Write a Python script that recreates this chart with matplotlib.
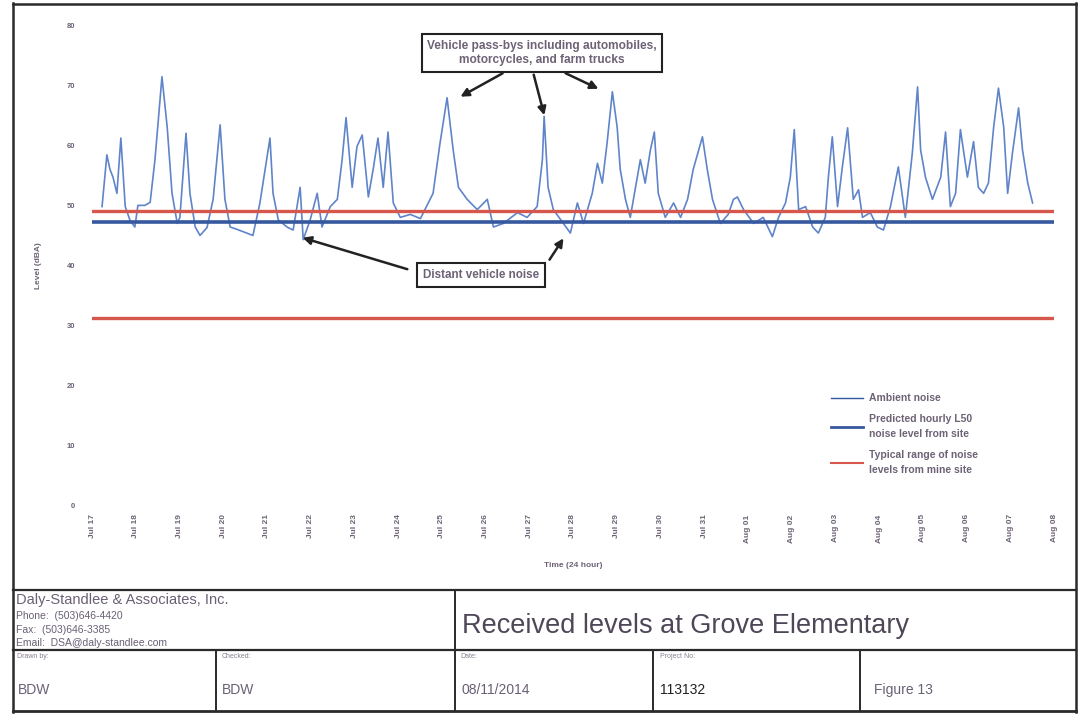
import matplotlib
matplotlib.use("Agg")
import matplotlib.pyplot as plt
from matplotlib.lines import Line2D

plt.rcParams['font.family'] = ['Liberation Sans', 'DejaVu Sans']

# ---------------- data ----------------
days = ["Jul 17", "Jul 18", "Jul 19", "Jul 20", "Jul 21", "Jul 22", "Jul 23", "Jul 24",
        "Jul 25", "Jul 26", "Jul 27", "Jul 28", "Jul 29", "Jul 30", "Jul 31", "Aug 01",
        "Aug 02", "Aug 03", "Aug 04", "Aug 05", "Aug 06", "Aug 07", "Aug 08"]

t_days = [0.23, 0.34, 0.41, 0.48, 0.57, 0.66, 0.76, 0.87, 0.98, 1.05, 1.21, 1.33, 1.44,
          1.60, 1.72, 1.83, 1.95, 2.01, 2.15, 2.24, 2.36, 2.47, 2.63, 2.77, 2.93, 3.04,
          3.16, 3.32, 3.50, 3.68, 3.84, 4.07, 4.14, 4.26, 4.46, 4.60, 4.76, 4.83, 4.99,
          5.15, 5.26, 5.45, 5.61, 5.72, 5.81, 5.95, 6.06, 6.18, 6.32, 6.43, 6.54, 6.66,
          6.77, 6.89, 7.05, 7.28, 7.51, 7.80, 7.96, 8.12, 8.26, 8.38, 8.58, 8.81, 9.04,
          9.18, 9.41, 9.73, 9.95, 10.18, 10.30, 10.34, 10.43, 10.55, 10.78, 10.94, 11.10,
          11.24, 11.44, 11.56, 11.67, 11.78, 11.90, 12.01, 12.08, 12.20, 12.31, 12.43,
          12.54, 12.65, 12.77, 12.86, 12.95, 13.11, 13.30, 13.46, 13.62, 13.75, 13.96,
          14.07, 14.19, 14.37, 14.55, 14.67, 14.76, 14.90, 15.13, 15.35, 15.56, 15.70,
          15.86, 15.97, 16.06, 16.16, 16.32, 16.48, 16.61, 16.77, 16.84, 16.93, 17.05,
          17.16, 17.28, 17.41, 17.53, 17.62, 17.80, 17.96, 18.10, 18.26, 18.44, 18.60,
          18.76, 18.88, 18.95, 19.06, 19.22, 19.41, 19.52, 19.63, 19.75, 19.86, 20.02,
          20.16, 20.27, 20.39, 20.50, 20.62, 20.73, 20.85, 20.94, 21.05, 21.19, 21.28,
          21.40, 21.51]

ambient_dba = [49.8, 58.4, 56.0, 54.7, 52.0, 61.2, 49.8, 47.5, 46.4, 50.0, 50.0, 50.5, 57.6,
               71.4, 63.0, 52.0, 47.0, 48.0, 62.0, 52.0, 46.4, 45.0, 46.3, 51.0, 63.4, 51.0,
               46.4, 46.0, 45.5, 45.0, 50.4, 61.2, 52.0, 47.6, 46.4, 45.9, 53.0, 44.3, 47.6,
               52.0, 46.4, 49.8, 51.0, 57.6, 64.6, 53.0, 59.8, 61.7, 51.4, 56.0, 61.2, 53.0,
               62.2, 50.4, 48.0, 48.5, 47.8, 52.0, 60.4, 67.9, 59.2, 53.0, 51.0, 49.3, 51.0,
               46.4, 47.0, 48.8, 48.0, 49.8, 57.6, 64.8, 53.0, 49.3, 47.0, 45.4, 50.4,
               47.0, 52.0, 57.0, 53.7, 60.4, 68.9, 63.0, 56.0, 51.0, 48.0, 53.0,
               57.6, 53.7, 59.2, 62.2, 52.0, 48.0, 50.4, 48.0, 51.0, 56.0, 61.4,
               56.0, 51.0, 47.0, 48.5, 51.0, 51.4, 49.3, 47.0, 48.0, 44.8, 48.0,
               50.4, 54.7, 62.6, 49.3, 49.8, 46.4, 45.4, 48.0, 54.7, 61.4, 49.8,
               56.4, 62.9, 51.0, 52.6, 48.0, 48.8, 46.4, 45.9, 49.8, 56.4, 48.0,
               58.7, 69.7, 59.2, 54.7, 51.0, 54.7, 62.2, 49.8, 52.0, 62.6, 54.7,
               60.6, 53.0, 52.0, 53.7, 63.0, 69.5, 63.0, 52.0, 58.7, 66.2, 59.2,
               53.7, 50.4]

predicted_l50 = 47.3
mine_range = [31.3, 49.0]

y_ticks = [0, 10, 20, 30, 40, 50, 60, 70, 80]

# ---------------- figure ----------------
W, H = 1079, 715
fig = plt.figure(figsize=(W / 100, H / 100), dpi=100)
fig.patch.set_facecolor('white')

def fx(px):
    return px / W

def fy(py):
    return 1 - py / H

txt = '#6d6276'

ax = fig.add_axes([fx(92), fy(506), fx(1054) - fx(92), fy(25) - fy(506)])
ax.set_xlim(0, len(days) - 1)
ax.set_ylim(0, 80)
for s in ax.spines.values():
    s.set_visible(False)

ax.plot(t_days, ambient_dba, color='#5f84c9', lw=1.2, zorder=2)
ax.axhline(predicted_l50, color='#35589e', lw=2.6, zorder=3)
for v in mine_range:
    ax.axhline(v, color='#d6584c', lw=2.4, zorder=4)

ax.set_yticks(y_ticks)
ax.set_yticklabels([str(v) for v in y_ticks], fontsize=5.5, color=txt, fontweight='bold')
ax.set_xticks(range(len(days)))
ax.set_xticklabels(days, rotation=90, fontsize=6, color=txt, fontweight='bold')
ax.tick_params(length=0, pad=12)
ax.tick_params(axis='x', pad=6)
ax.set_ylabel('Level (dBA)', fontsize=6, color=txt, fontweight='bold', labelpad=18)
ax.set_xlabel('Time (24 hour)', fontsize=6, color=txt, fontweight='bold', labelpad=14)

# legend
handles = [Line2D([], [], color='#35589e', lw=1.0),
           Line2D([], [], color='#35589e', lw=2.0),
           Line2D([], [], color='#d6584c', lw=1.5)]
labels = ['Ambient noise', 'Predicted hourly L50\nnoise level from site',
          'Typical range of noise\nlevels from mine site']
leg = fig.legend(handles, labels, loc='upper left',
                 bbox_to_anchor=(fx(822), fy(384)), frameon=False,
                 fontsize=7.5, handlelength=3.0, labelspacing=1.0, handletextpad=0.6)
for t in leg.get_texts():
    t.set_color(txt)
    t.set_fontweight('bold')
    t.set_linespacing(1.7)

# annotations
fig.text(fx(542), fy(53),
         'Vehicle pass-bys including automobiles,\nmotorcycles, and farm trucks',
         ha='center', va='center', fontsize=8.6, color=txt, fontweight='bold',
         bbox=dict(boxstyle='square,pad=0.45', fc='white', ec='#222222', lw=1.5),
         linespacing=1.3)
fig.text(fx(481), fy(275), 'Distant vehicle noise', ha='center', va='center',
         fontsize=8.4, color=txt, fontweight='bold',
         bbox=dict(boxstyle='square,pad=0.55', fc='white', ec='#222222', lw=1.5))

arrow_kw = dict(arrowstyle='-|>', color='#222222', lw=1.8, mutation_scale=12)
for (x0, y0), (x1, y1) in [((505, 72), (458, 98)), ((533, 72), (545, 118)),
                           ((563, 72), (601, 90)), ((410, 270), (300, 237)),
                           ((548, 262), (565, 236))]:
    ax.annotate('', xy=(fx(x1), fy(y1)), xycoords='figure fraction',
                xytext=(fx(x0), fy(y0)), textcoords='figure fraction',
                arrowprops=arrow_kw)

# page border and title block
line_c = '#2a2a2a'
def hline(y, x0, x1, lw=1.6):
    fig.add_artist(Line2D([fx(x0), fx(x1)], [fy(y), fy(y)], color=line_c, lw=lw))

def vline(x, y0, y1, lw=1.4):
    fig.add_artist(Line2D([fx(x), fx(x)], [fy(y0), fy(y1)], color=line_c, lw=lw))

vline(13, 3, 712, lw=1.8)
vline(1076, 3, 712, lw=1.8)
hline(4, 13, 1076, lw=1.8)
hline(711, 13, 1076, lw=2.0)
hline(590, 13, 1076)
hline(650, 13, 1076)
vline(455, 590, 650)
for x in [216, 455, 653, 860]:
    vline(x, 650, 711)

fig.text(fx(16), fy(600), 'Daly-Standlee & Associates, Inc.', fontsize=10.5,
         color='#6a6075', va='center')
fig.text(fx(16), fy(616), 'Phone:  (503)646-4420', fontsize=7.5, color='#6a6075', va='center')
fig.text(fx(16), fy(630), 'Fax:  (503)646-3385', fontsize=7.5, color='#6a6075', va='center')
fig.text(fx(16), fy(643), 'Email:  DSA@daly-standlee.com', fontsize=7.5, color='#6a6075',
         va='center')
fig.text(fx(462), fy(626), 'Received levels at Grove Elementary', fontsize=19.5,
         color='#4f4658', va='center')

small = [('Drawn by:', 17), ('Checked:', 222), ('Date:', 460), ('Project No:', 660)]
for s, x in small:
    fig.text(fx(x), fy(657), s, fontsize=5, color='#8a8090', va='center')
vals = [('BDW', 18, '#6a6075'), ('BDW', 222, '#6a6075'), ('08/11/2014', 462, '#6a6075'),
        ('113132', 660, '#222222'), ('Figure 13', 874, '#6a6075')]
for s, x, c in vals:
    fig.text(fx(x), fy(690), s, fontsize=10, color=c, va='center')

fig.savefig('out.png', dpi=100, facecolor='white')
